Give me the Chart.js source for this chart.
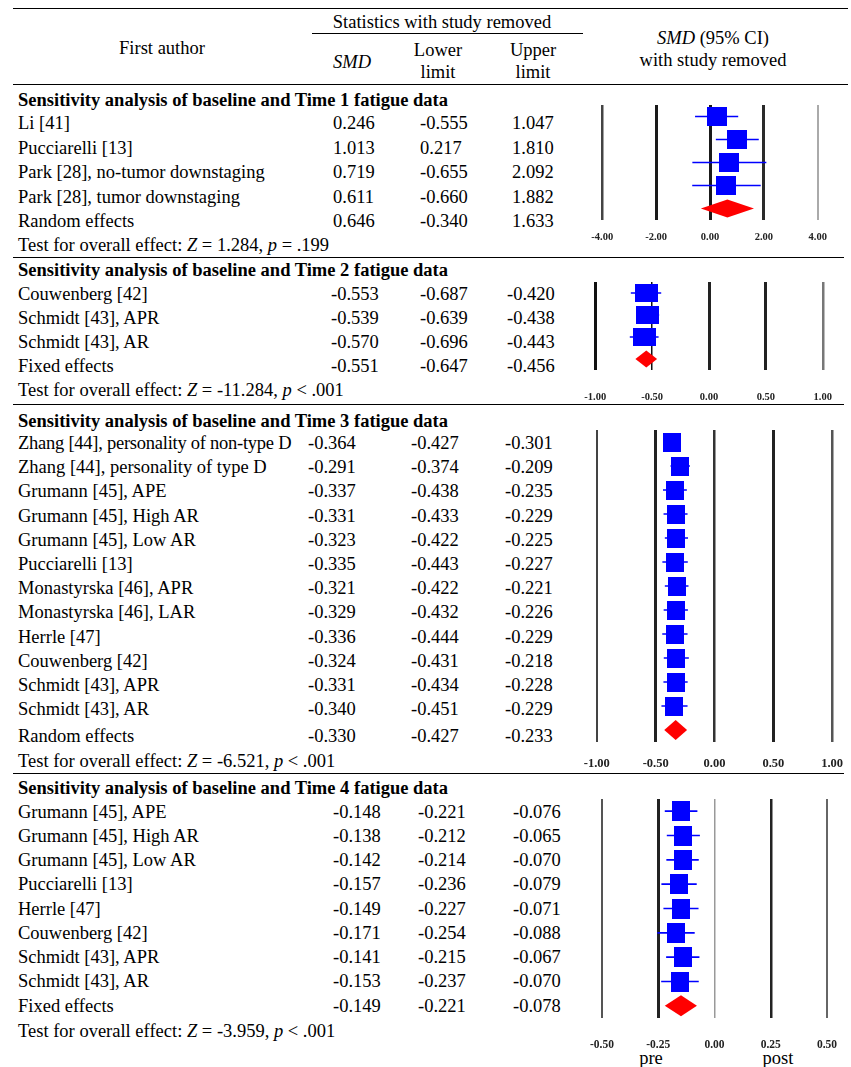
<!DOCTYPE html>
<html lang="en">
<head>
<meta charset="utf-8">
<title>Sensitivity analysis of fatigue data</title>
<script src="https://cdn.jsdelivr.net/npm/chart.js@4.4.1/dist/chart.umd.min.js"></script>
<style>
  html, body { margin: 0; padding: 0; background: #fff; }
  #page { position: relative; width: 851px; height: 1067px; overflow: hidden;
          font-family: "Liberation Serif", "Times New Roman", serif; font-size: 18.5px; color: #000; }
  .txt { position: absolute; white-space: nowrap; line-height: 22px; transform: translateY(-50%); }
  .txt.mid { transform: translate(-50%, -50%); }
  .b { font-weight: bold; }
  .tight { letter-spacing: -0.25px; }
  .rule { position: absolute; height: 0; border-top: 1.6px solid #000; }
  .plot { position: absolute; }
  .plot canvas { display: block; }
</style>
</head>
<body>
<div id="page"></div>
<script>
// ---------- data ----------
const sectionTitles = [
  'Sensitivity analysis of baseline and Time 1 fatigue data',
  'Sensitivity analysis of baseline and Time 2 fatigue data',
  'Sensitivity analysis of baseline and Time 3 fatigue data',
  'Sensitivity analysis of baseline and Time 4 fatigue data'
];

// Time 1
const t1Authors = ['Li [41]', 'Pucciarelli [13]', 'Park [28], no-tumor downstaging', 'Park [28], tumor downstaging'];
const t1Smd   = [0.246, 1.013, 0.719, 0.611];
const t1Lower = [-0.555, 0.217, -0.655, -0.660];
const t1Upper = [1.047, 1.810, 2.092, 1.882];
const t1PooledLabel = 'Random effects';
const t1Pooled = [0.646, -0.340, 1.633];
const t1Z = '1.284';
const t1P = '= .199';
const t1Ticks = [-4, -2, 0, 2, 4];

// Time 2
const t2Authors = ['Couwenberg [42]', 'Schmidt [43], APR', 'Schmidt [43], AR'];
const t2Smd   = [-0.553, -0.539, -0.570];
const t2Lower = [-0.687, -0.639, -0.696];
const t2Upper = [-0.420, -0.438, -0.443];
const t2PooledLabel = 'Fixed effects';
const t2Pooled = [-0.551, -0.647, -0.456];
const t2Z = '-11.284';
const t2P = '< .001';
const t2Ticks = [-1, -0.5, 0, 0.5, 1];

// Time 3
const t3Authors = [
  'Zhang [44], personality of non-type D', 'Zhang [44], personality of type D',
  'Grumann [45], APE', 'Grumann [45], High AR', 'Grumann [45], Low AR', 'Pucciarelli [13]',
  'Monastyrska [46], APR', 'Monastyrska [46], LAR', 'Herrle [47]', 'Couwenberg [42]',
  'Schmidt [43], APR', 'Schmidt [43], AR'
];
const t3Smd   = [-0.364, -0.291, -0.337, -0.331, -0.323, -0.335, -0.321, -0.329, -0.336, -0.324, -0.331, -0.340];
const t3Lower = [-0.427, -0.374, -0.438, -0.433, -0.422, -0.443, -0.422, -0.432, -0.444, -0.431, -0.434, -0.451];
const t3Upper = [-0.301, -0.209, -0.235, -0.229, -0.225, -0.227, -0.221, -0.226, -0.229, -0.218, -0.228, -0.229];
const t3PooledLabel = 'Random effects';
const t3Pooled = [-0.330, -0.427, -0.233];
const t3Z = '-6.521';
const t3P = '< .001';
const t3Ticks = [-1, -0.5, 0, 0.5, 1];

// Time 4
const t4Authors = [
  'Grumann [45], APE', 'Grumann [45], High AR', 'Grumann [45], Low AR', 'Pucciarelli [13]',
  'Herrle [47]', 'Couwenberg [42]', 'Schmidt [43], APR', 'Schmidt [43], AR'
];
const t4Smd   = [-0.148, -0.138, -0.142, -0.157, -0.149, -0.171, -0.141, -0.153];
const t4Lower = [-0.221, -0.212, -0.214, -0.236, -0.227, -0.254, -0.215, -0.237];
const t4Upper = [-0.076, -0.065, -0.070, -0.079, -0.071, -0.088, -0.067, -0.070];
const t4PooledLabel = 'Fixed effects';
const t4Pooled = [-0.149, -0.221, -0.078];
const t4Z = '-3.959';
const t4P = '< .001';
const t4Ticks = [-0.5, -0.25, 0, 0.25, 0.5];
const t4AxisNotes = ['pre', 'post'];

const sections = [
  { title: sectionTitles[0], authors: t1Authors, smd: t1Smd, lower: t1Lower, upper: t1Upper,
    pooledLabel: t1PooledLabel, pooled: t1Pooled, z: t1Z, p: t1P, ticks: t1Ticks },
  { title: sectionTitles[1], authors: t2Authors, smd: t2Smd, lower: t2Lower, upper: t2Upper,
    pooledLabel: t2PooledLabel, pooled: t2Pooled, z: t2Z, p: t2P, ticks: t2Ticks },
  { title: sectionTitles[2], authors: t3Authors, smd: t3Smd, lower: t3Lower, upper: t3Upper,
    pooledLabel: t3PooledLabel, pooled: t3Pooled, z: t3Z, p: t3P, ticks: t3Ticks },
  { title: sectionTitles[3], authors: t4Authors, smd: t4Smd, lower: t4Lower, upper: t4Upper,
    pooledLabel: t4PooledLabel, pooled: t4Pooled, z: t4Z, p: t4P, ticks: t4Ticks }
];

// ---------- page geometry for each block ----------
const frames = [
  { titleY: 100, rowY0: 123, rowStep: 24.5, pooledY: 221, testY: 245, cols: [333, 420, 512], ruleY: 257,
    plotX: [602.7, 818], plotTop: 105, plotBottom: 220, tickY: 237, tickFont: 10.5, box: [20, 19], diamondHalf: 9,
    gridColors: ['#444', '#1a1a1a', '#1a1a1a', '#2a2a2a', '#aaa'], gridWidths: [2.5, 3, 3, 3, 2] },
  { titleY: 270, rowY0: 294, rowStep: 24, pooledY: 366, testY: 390, cols: [331, 420, 507], ruleY: 404,
    plotX: [595.7, 823.7], plotTop: 282, plotBottom: 370, tickY: 397, tickFont: 10.5, box: [23, 18], diamondHalf: 8.5,
    gridColors: ['#111', '#111', '#222', '#222', '#777'], gridWidths: [3, 1.5, 3, 3, 2.5] },
  { titleY: 421, rowY0: 443, rowStep: 24.2, pooledY: 736, testY: 761, cols: [308, 411, 505], ruleY: 773,
    plotX: [596.7, 831.7], plotTop: 430, plotBottom: 742, tickY: 764, tickFont: 12.5, box: [18, 19], diamondHalf: 10,
    gridColors: ['#444', '#222', '#333', '#222', '#555'], gridWidths: [2, 3, 2.5, 3, 2.5] },
  { titleY: 788, rowY0: 812, rowStep: 24.15, pooledY: 1006, testY: 1031, cols: [333, 418, 513], ruleY: null,
    plotX: [601.7, 826.7], plotTop: 799, plotBottom: 1018, tickY: 1045, tickFont: 11.5, box: [18, 20], diamondHalf: 10.5,
    gridColors: ['#555', '#222', '#999', '#222', '#666'], gridWidths: [2, 3, 1.5, 2.5, 2],
    notes: t4AxisNotes, notePos: [[651, 1058], [778, 1058]] }
];

// ---------- table text ----------
const page = document.getElementById('page');

function addText(html, x, y, cls) {
  const d = document.createElement('div');
  d.className = 'txt' + (cls ? ' ' + cls : '');
  d.innerHTML = html;
  d.style.left = x + 'px';
  d.style.top = y + 'px';
  page.appendChild(d);
  return d;
}
function addRule(x1, x2, y, w) {
  const d = document.createElement('div');
  d.className = 'rule';
  d.style.left = x1 + 'px';
  d.style.width = (x2 - x1) + 'px';
  d.style.top = y + 'px';
  if (w) d.style.borderTopWidth = w + 'px';
  page.appendChild(d);
}
const fmt = v => v.toFixed(3);

// column header
addRule(13, 848, 7.5, 1.8);
addText('Statistics with study removed', 442, 22, 'mid');
addRule(312, 583, 33, 1.3);
addText('First author', 162, 48, 'mid');
addText('<i>SMD</i>', 352, 62, 'mid');
addText('Lower', 438, 50, 'mid');
addText('limit', 438, 72, 'mid');
addText('Upper', 533, 50, 'mid');
addText('limit', 533, 72, 'mid');
addText('<i>SMD</i> (95% CI)', 713, 38, 'mid');
addText('with study removed', 713, 60, 'mid');
addRule(13, 848, 83.5);

sections.forEach((sec, si) => {
  const f = frames[si];
  addText(sec.title, 18, f.titleY, 'b');
  sec.authors.forEach((name, i) => {
    const y = f.rowY0 + f.rowStep * i;
    addText(name, 18, y, name.length > 33 ? 'tight' : '');
    addText(fmt(sec.smd[i]), f.cols[0], y);
    addText(fmt(sec.lower[i]), f.cols[1], y);
    addText(fmt(sec.upper[i]), f.cols[2], y);
  });
  addText(sec.pooledLabel, 18, f.pooledY);
  sec.pooled.forEach((v, j) => addText(fmt(v), f.cols[j], f.pooledY));
  addText('Test for overall effect: <i>Z</i> = ' + sec.z + ', <i>p</i> ' + sec.p, 18, f.testY);
  if (f.ruleY !== null) addRule(13, 844, f.ruleY);
  if (f.notes) f.notes.forEach((t, j) => addText(t, f.notePos[j][0], f.notePos[j][1], 'mid'));
});

// ---------- forest plots ----------
// pooled estimate drawn as a diamond spanning its confidence interval
const diamondPlugin = {
  id: 'pooledDiamond',
  afterDatasetsDraw(chart, args, opts) {
    const xs = chart.scales.x, ys = chart.scales.y;
    const cy = ys.getPixelForValue(opts.row);
    const xl = xs.getPixelForValue(opts.lower);
    const xm = xs.getPixelForValue(opts.smd);
    const xr = xs.getPixelForValue(opts.upper);
    const ctx = chart.ctx;
    ctx.save();
    ctx.beginPath();
    ctx.moveTo(xl, cy);
    ctx.lineTo(xm, cy - opts.half);
    ctx.lineTo(xr, cy);
    ctx.lineTo(xm, cy + opts.half);
    ctx.closePath();
    ctx.fillStyle = opts.color;
    ctx.fill();
    ctx.restore();
  }
};

function boxSprite(w, h) {
  const c = document.createElement('canvas');
  c.width = w; c.height = h;
  const g = c.getContext('2d');
  g.fillStyle = '#0000ff';
  g.fillRect(0, 0, w, h);
  return c;
}

sections.forEach((sec, si) => {
  const f = frames[si];
  const t0 = sec.ticks[0], t1 = sec.ticks[sec.ticks.length - 1];
  const span = t1 - t0;
  const pad = span * 0.08;
  const k = (f.plotX[1] - f.plotX[0]) / span;
  const left = f.plotX[0] - pad * k;
  const width = Math.round((span + 2 * pad) * k);
  const areaH = f.plotBottom - f.plotTop;
  const axisH = 1067 - f.plotBottom - 2;
  const height = Math.round(areaH + axisH);
  const lineH = f.tickFont * 1.2;
  const tickPad = f.tickY - f.plotBottom - lineH / 2;

  const wrap = document.createElement('div');
  wrap.className = 'plot';
  wrap.style.left = left + 'px';
  wrap.style.top = f.plotTop + 'px';
  const cv = document.createElement('canvas');
  cv.width = width; cv.height = height;
  cv.style.width = width + 'px'; cv.style.height = height + 'px';
  wrap.appendChild(cv);
  page.appendChild(wrap);

  const rows = sec.smd.length + 1;
  const boxData = sec.smd.map((v, i) => ({ x: v, y: i }));
  const ciData = [];
  sec.smd.forEach((v, i) => {
    ciData.push({ x: sec.lower[i], y: i }, { x: sec.upper[i], y: i }, { x: null, y: null });
  });

  new Chart(cv, {
    type: 'scatter',
    data: {
      datasets: [
        { label: 'SMD', data: boxData, pointStyle: boxSprite(f.box[0], f.box[1]), pointRadius: 10, clip: false },
        { label: '95% CI', data: ciData, showLine: true, spanGaps: false, borderColor: '#0000ff',
          borderWidth: 1.6, pointRadius: 0, clip: false }
      ]
    },
    options: {
      responsive: false,
      animation: false,
      events: [],
      layout: { padding: 0, autoPadding: false },
      plugins: {
        legend: { display: false },
        tooltip: { enabled: false },
        pooledDiamond: { row: sec.smd.length, smd: sec.pooled[0], lower: sec.pooled[1], upper: sec.pooled[2],
                         half: f.diamondHalf, color: '#ff0000' }
      },
      scales: {
        x: {
          type: 'linear',
          position: 'bottom',
          bounds: 'data',
          min: t0 - pad,
          max: t1 + pad,
          afterBuildTicks: s => { s.ticks = sec.ticks.map(v => ({ value: v })); },
          afterFit: s => { s.height = axisH; s.paddingLeft = 0; s.paddingRight = 0; },
          border: { display: false },
          grid: {
            drawTicks: false,
            color: c => f.gridColors[c.index] || '#333',
            lineWidth: c => f.gridWidths[c.index] || 2
          },
          ticks: {
            autoSkip: false,
            maxRotation: 0,
            padding: tickPad,
            color: '#222',
            font: { family: 'Liberation Serif', weight: 'bold', size: f.tickFont },
            callback: v => Number(v).toFixed(2)
          }
        },
        y: { type: 'linear', display: false, reverse: true, min: -0.5, max: rows - 0.5 }
      }
    },
    plugins: [diamondPlugin]
  });
});
</script>
</body>
</html>
